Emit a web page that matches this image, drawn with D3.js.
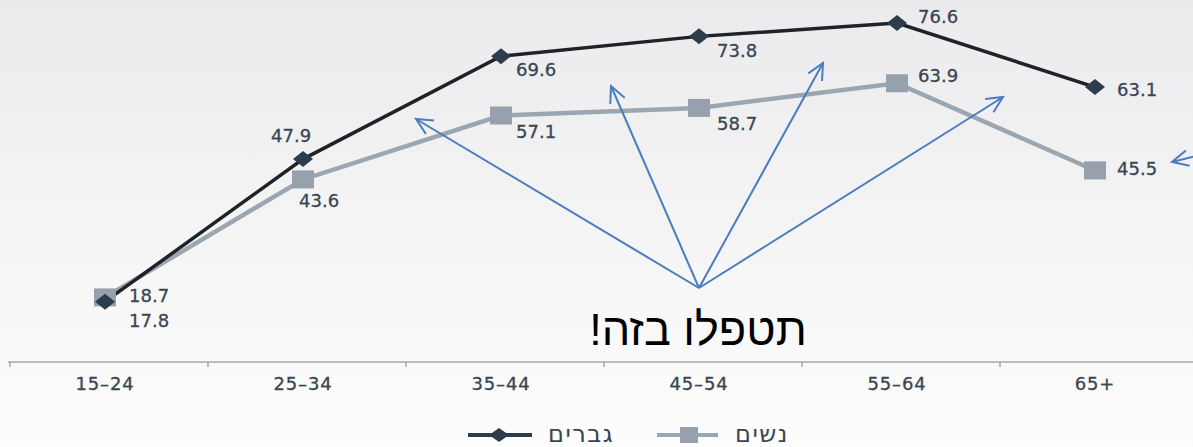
<!DOCTYPE html>
<html>
<head>
<meta charset="utf-8">
<script src="https://cdn.jsdelivr.net/npm/d3@7"></script>
<style>
  body { margin: 0; }
  text { font-family: "DejaVu Sans", "Open Sans", sans-serif; }
</style>
</head>
<body>
<div class="lineChart"></div>
<script>
var categories = ['15–24', '25–34', '35–44', '45–54', '55–64', '65+'];
var men = [17.8, 47.9, 69.6, 73.8, 76.6, 63.1];
var women = [18.7, 43.6, 57.1, 58.7, 63.9, 45.5];
var menLabel = 'גברים';
var womenLabel = 'נשים';
var note = 'תטפלו בזה!';

// where each value label sits relative to its point
var menLabelOffset = [[24, 25], [-32, -17], [15, 20], [18, 21], [21, 0], [22, 9]];
var womenLabelOffset = [[24, 5], [-4, 28], [15, 23], [18, 22], [21, -1], [22, 5]];

var width = 1193, height = 447;

var x = d3.scaleBand().domain(categories).range([8, 1196]);
var y = d3.scaleLinear().domain([0, 80]).range([386, 7]);
var px = function(c) { return x(c) + x.bandwidth() / 2 - 2; };

var svg = d3.select('.lineChart')
            .append('svg')
            .attr('width', width)
            .attr('height', height);

// background
var grad = svg.append('defs').append('linearGradient')
    .attr('id', 'bg').attr('x1', 0).attr('y1', 0).attr('x2', 0).attr('y2', 1);
grad.append('stop').attr('offset', '0%').attr('stop-color', '#ebebed');
grad.append('stop').attr('offset', '100%').attr('stop-color', '#fdfdfd');
svg.append('rect').attr('width', width).attr('height', height).attr('fill', 'url(#bg)');

// x axis
var axisY = 362;
svg.append('line')
    .attr('x1', 8).attr('x2', width)
    .attr('y1', axisY).attr('y2', axisY)
    .attr('stroke', '#a3a7ac').attr('stroke-width', 1.5);
svg.selectAll('.tick')
    .data(categories)
    .enter().append('line')
    .attr('class', 'tick')
    .attr('x1', d => x(d) + 2).attr('x2', d => x(d) + 2)
    .attr('y1', axisY).attr('y2', axisY + 5)
    .attr('stroke', '#a3a7ac').attr('stroke-width', 1.5);
svg.selectAll('.cat')
    .data(categories)
    .enter().append('text')
    .attr('class', 'cat')
    .attr('x', d => px(d))
    .attr('y', 390)
    .attr('text-anchor', 'middle')
    .attr('font-size', 18)
    .attr('letter-spacing', 0.8)
    .attr('fill', '#3a4552')
    .attr('stroke', '#3a4552').attr('stroke-width', 0.3)
    .text(d => d);

var line = d3.line().x((d, i) => px(categories[i])).y(d => y(d));

// women
svg.append('path')
    .datum(women)
    .attr('d', line)
    .attr('fill', 'none')
    .attr('stroke', '#9ba6b1')
    .attr('stroke-width', 4.5);

// men
svg.append('path')
    .datum(men)
    .attr('d', line)
    .attr('fill', 'none')
    .attr('stroke', '#1f2226')
    .attr('stroke-width', 3.5);

svg.selectAll('.sq')
    .data(women)
    .enter().append('rect')
    .attr('class', 'sq')
    .attr('x', (d, i) => px(categories[i]) - 11)
    .attr('y', d => y(d) - 9)
    .attr('width', 22).attr('height', 18)
    .attr('fill', '#96a1ad');

svg.selectAll('.dia')
    .data(men)
    .enter().append('path')
    .attr('class', 'dia')
    .attr('d', (d, i) => {
        var cx = px(categories[i]), cy = y(d);
        return 'M' + (cx - 10) + ',' + cy + 'L' + cx + ',' + (cy - 8) +
               'L' + (cx + 10) + ',' + cy + 'L' + cx + ',' + (cy + 8) + 'Z';
    })
    .attr('fill', '#2e3d4b');

// value labels
function labels(data, offs, cls) {
    svg.selectAll('.' + cls)
        .data(data)
        .enter().append('text')
        .attr('class', cls)
        .attr('x', (d, i) => px(categories[i]) + offs[i][0])
        .attr('y', (d, i) => y(d) + offs[i][1])
        .attr('font-size', 18)
        .attr('fill', '#3a4552')
        .attr('stroke', '#3a4552').attr('stroke-width', 0.3)
        .text(d => d.toFixed(1));
}
labels(men, menLabelOffset, 'ml');
labels(women, womenLabelOffset, 'wl');

// annotation arrows
var arrowColor = '#4a7cc0';
var origin = [699, 288];
var targets = [[416, 119], [611, 86], [823, 63], [1003, 97]];
function arrow(from, to) {
    svg.append('line')
        .attr('x1', from[0]).attr('y1', from[1])
        .attr('x2', to[0]).attr('y2', to[1])
        .attr('stroke', arrowColor).attr('stroke-width', 2);
    var a = Math.atan2(from[1] - to[1], from[0] - to[0]);
    var len = 18, spread = 0.45;
    var p1 = [to[0] + len * Math.cos(a + spread), to[1] + len * Math.sin(a + spread)];
    var p2 = [to[0] + len * Math.cos(a - spread), to[1] + len * Math.sin(a - spread)];
    svg.append('path')
        .attr('d', 'M' + p1 + 'L' + to + 'L' + p2)
        .attr('fill', 'none')
        .attr('stroke', arrowColor).attr('stroke-width', 2);
}
targets.forEach(t => arrow(origin, t));
arrow([1260, 140], [1172, 162]);

svg.append('text')
    .attr('x', 698)
    .attr('y', 345)
    .attr('text-anchor', 'middle')
    .attr('direction', 'rtl')
    .style('font-family', '"Liberation Sans", Arial, sans-serif')
    .attr('font-size', 45)
    .attr('fill', '#000')
    .text(note);

// legend
var ly = 435;
svg.append('line').attr('x1', 468).attr('x2', 532).attr('y1', ly).attr('y2', ly)
    .attr('stroke', '#2e3d4b').attr('stroke-width', 4);
svg.append('path')
    .attr('d', 'M489,' + ly + 'L499,' + (ly - 7) + 'L509,' + ly + 'L499,' + (ly + 7) + 'Z')
    .attr('fill', '#2e3d4b');
svg.append('text').attr('x', 548).attr('y', ly + 7)
    .attr('font-size', 24).attr('letter-spacing', 1.5).attr('fill', '#3a4552')
    .text(menLabel);
svg.append('line').attr('x1', 657).attr('x2', 718).attr('y1', ly).attr('y2', ly)
    .attr('stroke', '#9ba6b1').attr('stroke-width', 4);
svg.append('rect').attr('x', 680).attr('y', ly - 8).attr('width', 18).attr('height', 16)
    .attr('fill', '#96a1ad');
svg.append('text').attr('x', 735).attr('y', ly + 7)
    .attr('font-size', 24).attr('letter-spacing', 1.5).attr('fill', '#3a4552')
    .text(womenLabel);
</script>
</body>
</html>
